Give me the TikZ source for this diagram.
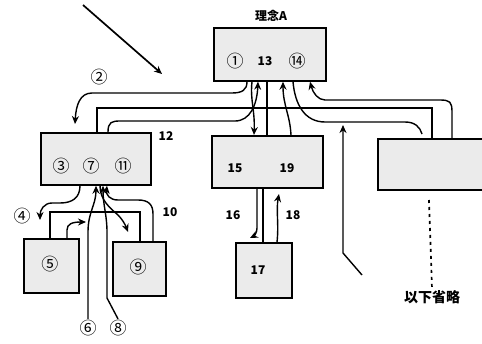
\documentclass[tikz,border=0pt]{standalone}
\usepackage{fontspec}
\setmainfont{Noto Sans CJK JP}
\usetikzlibrary{arrows.meta}
\begin{document}
\begin{tikzpicture}[x=1pt,y=-1pt,
  box/.style={draw, line width=1.7pt, fill=black!8, inner sep=0pt, anchor=north west},
  ln/.style={line width=1.4pt},
  arr/.style={ln, -{Stealth[length=8pt,width=7pt]}},
  num/.style={font=\fontsize{12}{13}\selectfont\bfseries, inner sep=1pt},
  cnum/.style={font=\fontsize{17}{18}\selectfont, inner sep=1pt},
  ttl/.style={font=\fontsize{12}{14}\selectfont\bfseries, inner sep=1pt}]
\useasboundingbox (0,0) rectangle (482,343);
% boxes
\node[box, minimum width=112pt, minimum height=53pt] (A) at (213,27) {};
\node[box, minimum width=110pt, minimum height=52pt] (L) at (40,132) {};
\node[box, minimum width=111pt, minimum height=52pt] (M) at (211,135) {};
\node[box, minimum width=125pt, minimum height=51pt] (R) at (377,138) {};
\node[box, minimum width=55pt, minimum height=54pt] (B5) at (23,238) {};
\node[box, minimum width=53pt, minimum height=54pt] (B9) at (112,241) {};
\node[box, minimum width=56pt, minimum height=55pt] (B17) at (235,242) {};
% texts
\node[ttl] (tA) at (271,16) {理念A};
\node[cnum] (n1) at (235,61) {①};
\node[num] (n13) at (265,61) {13};
\node[cnum] (n14) at (297,61) {⑭};
\node[cnum] (n3) at (61,166) {③};
\node[cnum] (n7) at (91,166) {⑦};
\node[cnum] (n11) at (123,166) {⑪};
\node[num] (n15) at (235,168) {15};
\node[num] (n19) at (287,168) {19};
\node[num] (n12) at (166,136) {12};
\node[num] (n10) at (170,212) {10};
\node[cnum] (n4) at (22,216) {④};
\node[cnum] (n2) at (99,77) {②};
\node[num] (n16) at (233,215) {16};
\node[num] (n18) at (293,215) {18};
\node[num] (n17) at (258,270) {17};
\node[cnum] (n5) at (50,264) {⑤};
\node[cnum] (n9) at (138,267) {⑨};
\node[cnum] (n6) at (88,328) {⑥};
\node[cnum] (n8) at (118,328) {⑧};
\node[ttl, font=\fontsize{14}{16}\selectfont\bfseries] (omit) at (432,297) {以下省略};
% free coordinates
\coordinate (d1) at (83,5);
\coordinate (d2) at (162,74);
\coordinate (c2) at (75,124);
\coordinate (c3) at (422,134);
\coordinate (up0) at (362,275);
\coordinate (up1) at (343,125);
\coordinate (c4) at (40,220);
\coordinate (c9) at (128,232);
\coordinate (c16) at (250,238);
\coordinate (c18) at (279,194);
\coordinate (dsh) at (429,200);
% connectors
\draw[arr, line width=1.7pt] (d1) -- (d2);
\draw[arr] ([xshift=34pt]A.south west) .. controls (247,90) and (242,93) .. (232,93) -- (92,93) .. controls (80,93) and (76,105) .. (c2);
\draw[ln] ([xshift=57pt]L.north west) -- (97,108) -- (432,108) -- ([xshift=55pt]R.north west);
\draw[arr] ([xshift=68pt]L.north west) .. controls (108,122) and (112,121) .. (120,121) -- (235,121) .. controls (250,121) and (257,105) .. ([xshift=45pt]A.south west);
\draw[arr] ([xshift=39pt]A.south west) .. controls (250,100) and (255,110) .. ([xshift=43pt]M.north west);
\draw[ln] ([xshift=54pt]A.south west) -- ([xshift=56pt]M.north west);
\draw[arr] ([xshift=80pt]M.north west) .. controls (290,115) and (283,105) .. ([xshift=70pt]A.south west);
\draw[ln] ([xshift=80pt]A.south west) .. controls (295,105) and (305,122) .. (325,122) -- (405,122) .. controls (415,122) and (420,127) .. (c3);
\draw[arr] ([xshift=75pt]R.north west) -- (452,112) .. controls (452,102) and (450,100) .. (440,100) -- (325,100) .. controls (318,100) and (313,93) .. ([xshift=97pt]A.south west);
\draw[arr] (up0) -- (343,253) -- (up1);
% left bottom
\draw[arr] ([xshift=40pt]L.south west) .. controls (80,198) and (72,203) .. (60,203) -- (52,203) .. controls (44,203) and (40,210) .. (c4);
\draw[ln] ([xshift=27pt]B5.north west) -- (50,212) -- (140,212) -- ([xshift=28pt]B9.north west);
\draw[arr] (n6.north) -- (88,232) .. controls (88,212) and (96,205) .. ([xshift=56pt]L.south west);
\draw[arr] ([xshift=44pt]B5.north west) -- (67,230) .. controls (67,224) and (72,222) .. (86,222);
\draw[arr] (n8.north) -- (107,298) -- (107,232) .. controls (107,215) and (103,205) .. ([xshift=63pt]L.south west);
\draw[arr] ([xshift=60pt]L.south west) .. controls (100,200) and (110,208) .. (118,215) .. controls (122,219) and (125,224) .. (c9);
\draw[arr] ([xshift=41pt]B9.north west) -- (153,214) .. controls (153,204) and (148,200) .. (138,200) -- (118,200) .. controls (110,200) and (106,195) .. ([xshift=67pt]L.south west);
% middle bottom
\draw[arr] ([xshift=46pt]M.south west) -- (257,228) .. controls (257,233) and (254,236) .. (c16);
\draw[ln] ([xshift=52pt]M.south west) -- ([xshift=28pt]B17.north west);
\draw[arr] ([xshift=42pt]B17.north west) .. controls (279,225) and (276,210) .. (c18);
% dashed
\draw[line width=1.7pt, dash pattern=on 3pt off 4pt] (dsh) -- (omit.north);
\end{tikzpicture}
\end{document}
